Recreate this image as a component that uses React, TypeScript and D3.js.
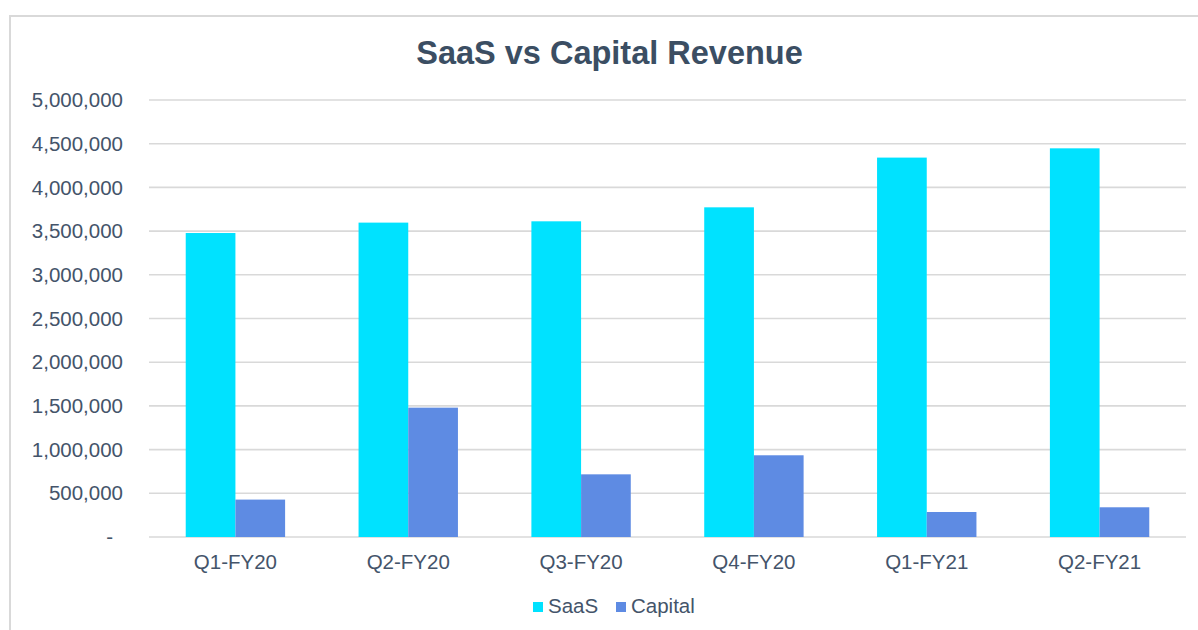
import React from "react";
import * as d3 from "d3";

const categories = ["Q1-FY20", "Q2-FY20", "Q3-FY20", "Q4-FY20", "Q1-FY21", "Q2-FY21"];
const saasValues = [3478000, 3597000, 3612000, 3772000, 4341000, 4447000];
const capitalValues = [428000, 1480000, 717000, 935000, 286000, 340000];
const seriesNames = ["SaaS", "Capital"];
const seriesColors = ["#00E2FF", "#5E8BE3"];
const yTicks = [0, 500000, 1000000, 1500000, 2000000, 2500000, 3000000, 3500000, 4000000, 4500000, 5000000];

const W = 1198;
const H = 630;
const plot = { left: 149, right: 1186, top: 100, bottom: 537 };
const textColor = "#44546A";
const font = "Liberation Sans, Arial, sans-serif";

export default function App() {
  const x = d3
    .scaleBand<string>()
    .domain(categories)
    .range([plot.left, plot.right])
    .paddingInner(0.425)
    .paddingOuter(0.2125);
  const x1 = d3.scaleBand<string>().domain(seriesNames).range([0, x.bandwidth()]).padding(0);
  const y = d3.scaleLinear().domain([0, 5000000]).range([plot.bottom, plot.top]);
  const fmt = (v: number) => (v === 0 ? "-" : d3.format(",")(v));
  const series = [saasValues, capitalValues];

  return (
    <svg width={W} height={H} style={{ position: "absolute", left: 0, top: 0, background: "#fff" }}>
      <rect x={10} y={16} width={W + 20} height={H + 20} fill="#fff" stroke="#D9D9D9" strokeWidth={2} />
      <text x={609.5} y={63.5} textAnchor="middle" fontFamily={font} fontWeight="bold" fontSize={32.5} fill="#3B4E63">
        SaaS vs Capital Revenue
      </text>
      {yTicks.map((t) => (
        <g key={t}>
          <line x1={plot.left} x2={plot.right} y1={y(t)} y2={y(t)} stroke="#D9D9D9" strokeWidth={1.6} />
          <text
            x={t === 0 ? 113 : 123}
            y={y(t)}
            dy="0.35em"
            textAnchor="end"
            fontFamily={font}
            fontSize={20.5}
            fill={textColor}
          >
            {fmt(t)}
          </text>
        </g>
      ))}
      {categories.map((c, i) => (
        <g key={c}>
          {series.map((vals, s) => (
            <rect
              key={s}
              x={(x(c) as number) + (x1(seriesNames[s]) as number)}
              y={y(vals[i])}
              width={x1.bandwidth()}
              height={y(0) - y(vals[i])}
              fill={seriesColors[s]}
            />
          ))}
          <text
            x={(x(c) as number) + x.bandwidth() / 2}
            y={569}
            textAnchor="middle"
            fontFamily={font}
            fontSize={20.5}
            fill={textColor}
          >
            {c}
          </text>
        </g>
      ))}
      <g>
        <rect x={533} y={602} width={10} height={10} fill={seriesColors[0]} />
        <text x={548} y={613} fontFamily={font} fontSize={20.5} fill={textColor}>
          {seriesNames[0]}
        </text>
        <rect x={616} y={602} width={10} height={10} fill={seriesColors[1]} />
        <text x={631} y={613} fontFamily={font} fontSize={20.5} fill={textColor}>
          {seriesNames[1]}
        </text>
      </g>
    </svg>
  );
}
